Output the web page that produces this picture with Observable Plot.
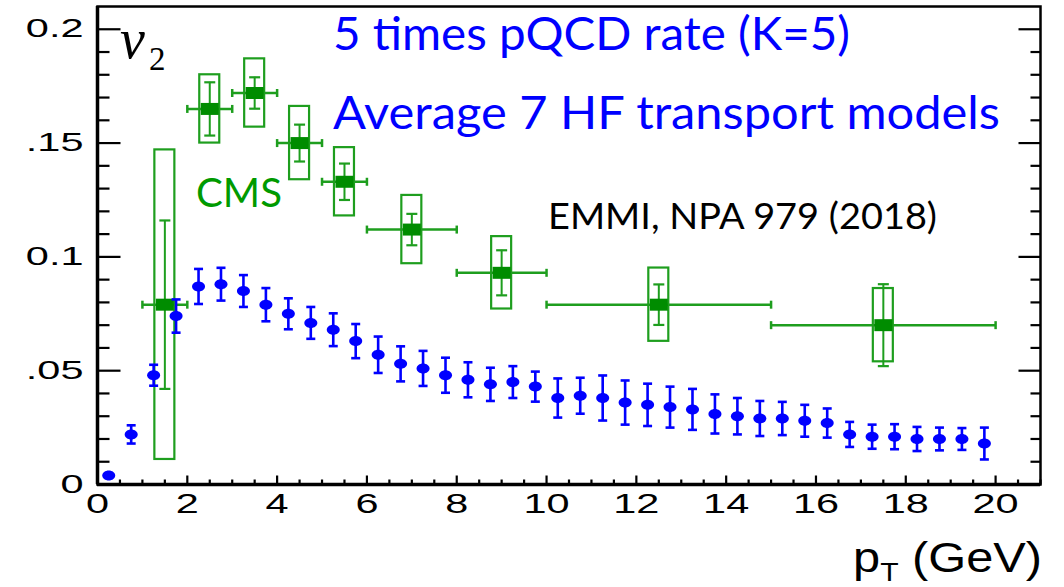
<!DOCTYPE html>
<html><head><meta charset="utf-8">
<script src="https://cdn.jsdelivr.net/npm/d3@7"></script>
<script src="https://cdn.jsdelivr.net/npm/@observablehq/plot@0.6"></script>
<style>body{margin:0;background:#fff}#chart svg{display:block;background:#fff}</style>
</head><body><div id="chart"></div>
<script>
// ---- Average of 7 HF transport models (K=5), blue ----
const modelPt = [0.25,0.75,1.25,1.75,2.25,2.75,3.25,3.75,4.25,4.75,5.25,5.75,6.25,6.75,7.25,7.75,8.25,8.75,9.25,9.75,
                 10.25,10.75,11.25,11.75,12.25,12.75,13.25,13.75,14.25,14.75,15.25,15.75,16.25,16.75,17.25,17.75,18.25,18.75,19.25,19.75];
const modelV2 = [0.004,0.022,0.048,0.074,0.087,0.088,0.085,0.079,0.075,0.071,0.068,0.063,0.057,0.053,0.051,0.048,0.046,0.044,0.045,0.043,
                 0.038,0.039,0.038,0.036,0.035,0.034,0.033,0.031,0.030,0.029,0.029,0.028,0.027,0.022,0.021,0.021,0.020,0.020,0.020,0.018];
const modelErr = [0,0.004,0.0046,0.0073,0.0077,0.0072,0.007,0.0073,0.0068,0.007,0.0072,0.0075,0.008,0.0077,0.0077,0.0077,0.0077,0.0073,0.007,0.0066,
                  0.0086,0.0079,0.0099,0.0097,0.0093,0.009,0.009,0.0086,0.008,0.0077,0.0073,0.007,0.0064,0.0055,0.0053,0.0055,0.0053,0.005,0.0048,0.007];

// ---- CMS data, green ----
const cmsPt   = [1.5,2.5,3.5,4.5,5.5,7,9,12.5,17.5];
const cmsLo   = [1,2,3,4,5,6,8,10,15];
const cmsHi   = [2,3,4,5,6,8,10,15,20];
const cmsV2   = [0.079,0.165,0.172,0.150,0.133,0.112,0.093,0.079,0.070];
const cmsStat = [0.037,0.0117,0.0069,0.0081,0.008,0.0069,0.0099,0.0089,0.018];
const cmsSys  = [0.068,0.015,0.015,0.0161,0.015,0.015,0.0159,0.0161,0.0161];

// ---- axes ----
const xTickValues = [0,2,4,6,8,10,12,14,16,18,20];
const xTickLabels = ["0","2","4","6","8","10","12","14","16","18","20"];
const yTickValues = [0,0.05,0.1,0.15,0.2];
const yTickLabels = ["0",".05","0.1",".15","0.2"];

const model = modelPt.map((x,i)=>({x, y:modelV2[i], e:modelErr[i]}));
const cms = cmsPt.map((x,i)=>({x, lo:cmsLo[i], hi:cmsHi[i], y:cmsV2[i], stat:cmsStat[i], sys:cmsSys[i]}));

const xMinor = d3.range(0, 21.001, 0.5).filter(v => Math.abs(v/2 - Math.round(v/2)) > 1e-6);
const yMinor = d3.range(0, 21).map(i => i/100).filter((v,i) => i % 5 !== 0);

// pixel-sized symbols
const seg = (x1,y1,x2,y2) => ({draw(c){c.moveTo(x1,y1);c.lineTo(x2,y2);}});
const ellipse = (rx,ry) => ({draw(c){const k=0.5523;
  c.moveTo(rx,0);
  c.bezierCurveTo(rx,ry*k,rx*k,ry,0,ry);
  c.bezierCurveTo(-rx*k,ry,-rx,ry*k,-rx,0);
  c.bezierCurveTo(-rx,-ry*k,-rx*k,-ry,0,-ry);
  c.bezierCurveTo(rx*k,-ry,rx,-ry*k,rx,0);
  c.closePath();}});
const box = (w,h) => ({draw(c){c.rect(-w/2,-h/2,w,h);}});

const BLUE = "#0000ff";
const GREEN = "#1e9e1e";
const GREEN_D = "#008c00";

const chart = Plot.plot({
  width: 1064, height: 587,
  marginLeft: 97, marginRight: 24, marginTop: 6, marginBottom: 103,
  x: {domain: [0, 21], label: null},
  y: {domain: [0, 0.21], label: null},
  style: {fontFamily: "'Liberation Sans', Arial, sans-serif", background: "#fff", color: "#000"},
  marks: [
    // CMS systematic boxes
    Plot.rect(cms, {x1: "x", x2: "x", y1: d => d.y - d.sys, y2: d => d.y + d.sys,
      insetLeft: -10, insetRight: -10, fill: "none", stroke: GREEN, strokeWidth: 2.2}),
    // CMS horizontal bin bars
    Plot.ruleY(cms, {y: "y", x1: "lo", x2: "hi", stroke: GREEN, strokeWidth: 2.5}),
    Plot.dot(cms, {x: "lo", y: "y", symbol: seg(0,-4,0,4), stroke: GREEN, strokeWidth: 2.5, fill: "none"}),
    Plot.dot(cms, {x: "hi", y: "y", symbol: seg(0,-4,0,4), stroke: GREEN, strokeWidth: 2.5, fill: "none"}),
    // CMS statistical errors
    Plot.ruleX(cms, {x: "x", y1: d => d.y - d.stat, y2: d => d.y + d.stat, stroke: GREEN, strokeWidth: 2}),
    Plot.dot(cms, {x: "x", y: d => d.y + d.stat, symbol: seg(-5.5,0,5.5,0), stroke: GREEN, strokeWidth: 2.2, fill: "none"}),
    Plot.dot(cms, {x: "x", y: d => d.y - d.stat, symbol: seg(-5.5,0,5.5,0), stroke: GREEN, strokeWidth: 2.2, fill: "none"}),
    // CMS markers
    Plot.dot(cms, {x: "x", y: "y", symbol: box(18,12), fill: GREEN_D, stroke: "none"}),

    // Model error bars and points
    Plot.ruleX(model.filter(d => d.e > 0), {x: "x", y1: d => d.y - d.e, y2: d => d.y + d.e, stroke: BLUE, strokeWidth: 2.6}),
    Plot.dot(model.filter(d => d.e > 0), {x: "x", y: d => d.y + d.e, symbol: seg(-4.5,0,4.5,0), stroke: BLUE, strokeWidth: 2.6, fill: "none"}),
    Plot.dot(model.filter(d => d.e > 0), {x: "x", y: d => d.y - d.e, symbol: seg(-4.5,0,4.5,0), stroke: BLUE, strokeWidth: 2.6, fill: "none"}),
    Plot.dot(model, {x: "x", y: "y", symbol: ellipse(6.5,5), fill: BLUE, stroke: "none"}),

    // frame
    Plot.frame({stroke: "#000", strokeWidth: 2.5}),
    Plot.ruleX([0], {stroke: "#000", strokeWidth: 3.5}),
    Plot.ruleY([0], {stroke: "#000", strokeWidth: 3.5}),
    // inward ticks: left, right, bottom
    Plot.dot(yTickValues, {x: () => 0, y: d => d, symbol: seg(0,0,23,0), stroke: "#000", strokeWidth: 2.2}),
    Plot.dot(yMinor, {x: () => 0, y: d => d, symbol: seg(0,0,12,0), stroke: "#000", strokeWidth: 2.2}),
    Plot.dot(yTickValues, {x: () => 21, y: d => d, symbol: seg(0,0,-22,0), stroke: "#000", strokeWidth: 2.2}),
    Plot.dot(yMinor, {x: () => 21, y: d => d, symbol: seg(0,0,-10,0), stroke: "#000", strokeWidth: 2.2}),
    Plot.dot(xTickValues, {x: d => d, y: () => 0, symbol: seg(0,0,0,-9), stroke: "#000", strokeWidth: 2.2}),
    Plot.dot(xMinor, {x: d => d, y: () => 0, symbol: seg(0,0,0,-5), stroke: "#000", strokeWidth: 2.2}),
    // tick labels
    Plot.axisX({ticks: xTickValues, tickFormat: d => xTickLabels[xTickValues.indexOf(d)], tickSize: 0, tickPadding: 9, fontSize: 28, label: null, fill: "#000"}),
    Plot.axisY({ticks: yTickValues, tickFormat: d => yTickLabels[yTickValues.indexOf(d)], tickSize: 0, tickPadding: 14, fontSize: 25, label: null, fill: "#000"})
  ]
});
document.getElementById("chart").appendChild(chart);

// horizontally stretched ROOT-style tick labels
chart.querySelectorAll('g[aria-label="x-axis tick label"] text').forEach(t => {
  t.setAttribute("transform", (t.getAttribute("transform") || "") + " scale(1.48,1)");
});
chart.querySelectorAll('g[aria-label="y-axis tick label"] text').forEach(t => {
  t.setAttribute("transform", (t.getAttribute("transform") || "") + " scale(1.66,1)");
});

// annotations
const svg = d3.select(chart);
const ann = svg.append("g").attr("class", "annotations").attr("text-anchor", "start");
// axis title p_T (GeV)
const ttl = ann.append("text").attr("transform", "translate(1042,572) scale(1.16,1)")
  .attr("text-anchor", "end").attr("font-family", "'Liberation Sans', Arial, sans-serif")
  .attr("font-size", 42).attr("fill", "#000");
ttl.append("tspan").text("p");
ttl.append("tspan").attr("font-size", 26).attr("dy", 9).text("T");
ttl.append("tspan").attr("dy", -9).text(" (GeV)");
// v2
ann.append("text").attr("x", 120).attr("y", 58).attr("font-family", "'Liberation Serif', 'DejaVu Serif', serif")
  .attr("font-style", "italic").attr("font-size", 56).attr("fill", "#000").text("v");
ann.append("text").attr("x", 149).attr("y", 70).attr("font-family", "'Liberation Serif', 'DejaVu Serif', serif")
  .attr("font-size", 33).attr("fill", "#000").text("2");
// model labels
const lato = "Lato, 'Open Sans', sans-serif";
ann.append("text").attr("x", 333).attr("y", 50).attr("font-family", lato).attr("font-size", 46)
  .attr("fill", BLUE).attr("textLength", 517).attr("lengthAdjust", "spacingAndGlyphs").text("5 times pQCD rate (K=5)");
ann.append("text").attr("x", 333).attr("y", 129).attr("font-family", lato).attr("font-size", 46)
  .attr("fill", BLUE).attr("textLength", 667).attr("lengthAdjust", "spacingAndGlyphs").text("Average 7 HF transport models");
ann.append("text").attr("x", 196).attr("y", 207).attr("font-family", lato).attr("font-size", 41)
  .attr("fill", "#009a00").attr("textLength", 86).attr("lengthAdjust", "spacingAndGlyphs").text("CMS");
ann.append("text").attr("x", 548).attr("y", 229).attr("font-family", lato).attr("font-size", 37.5)
  .attr("fill", "#000").attr("textLength", 389).attr("lengthAdjust", "spacingAndGlyphs").text("EMMI, NPA 979 (2018)");
</script>
</body></html>
